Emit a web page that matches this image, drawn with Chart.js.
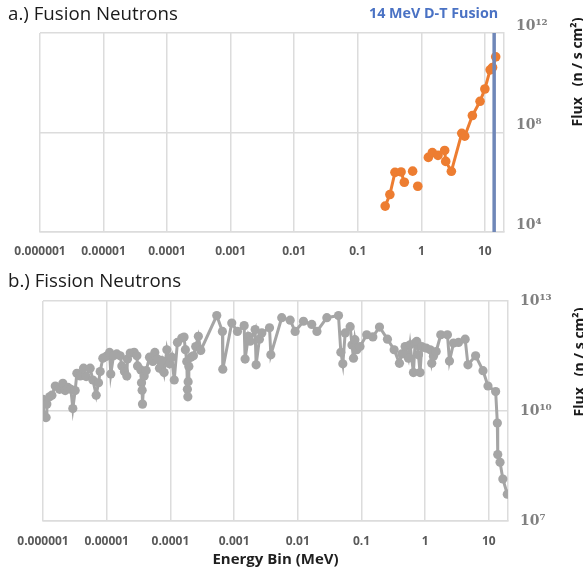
<!DOCTYPE html>
<html>
<head>
<meta charset="utf-8">
<script src="https://cdn.jsdelivr.net/npm/chart.js@4.4.0/dist/chart.umd.min.js"></script>
<style>
body { margin:0; background:#fff; width:583px; height:575px; overflow:hidden; position:relative; font-family:"Open Sans", sans-serif; }
.wrap { position:absolute; left:0; width:583px; }
#w1 { top:0; height:262px; }
#w2 { top:262px; height:313px; }
.ptitle { position:absolute; left:8px; font-size:18.7px; color:#1a1a1a; white-space:nowrap; line-height:1; }
.flux { position:absolute; font-weight:bold; font-size:14px; color:#1a1a1a; white-space:pre; transform:translate(-50%,-50%) rotate(-90deg); line-height:1; }
#dt { position:absolute; left:369px; top:6px; font-weight:bold; font-size:14.3px; color:#4a72c4; white-space:nowrap; line-height:1; }
</style>
</head>
<body>
<div class="wrap" id="w1"><canvas id="c1"></canvas></div>
<div class="wrap" id="w2"><canvas id="c2"></canvas></div>
<div class="ptitle" style="top:4px">a.) Fusion Neutrons</div>
<div class="ptitle" style="top:271px">b.) Fission Neutrons</div>
<div id="dt">14 MeV D-T Fusion</div>
<div class="flux" style="left:577px; top:72px">Flux   (n / s cm²)</div>
<div class="flux" style="left:579px; top:362px">Flux   (n / s cm²)</div>
<script>
// x ticks (MeV), shared by both panels
var xTicks = [1e-6, 1e-5, 1e-4, 1e-3, 1e-2, 0.1, 1, 10];
var xTickLabels = ['0.000001', '0.00001', '0.0001', '0.001', '0.01', '0.1', '1', '10'];

// a.) fusion spectrum (null = gap)
var fusionE = [0.27, 0.32, 0.385, 0.48, 0.54, 0.63, 0.73, 0.8, 0.88, 1.1, 1.29, 1.49, 1.83, 2.33, 2.42, 2.97, 4.33, 4.82, 6.36, 8.4, 10.0, 12.1, 13.2, 14.8];
var fusionFlux = [1.1e5, 3.2e5, 2.5e6, 2.6e6, 1.0e6, null, 2.8e6, null, 6.9e5, null, 1.0e7, 1.55e7, 1.2e7, 1.9e7, 6.9e6, 2.75e6, 9.3e7, 7.1e7, 4.8e8, 1.8e9, 5.6e9, 3.3e10, 4.1e10, 1.1e11];
var dtLineE = 14;
var yTicksTop = [1e4, 1e8, 1e12];
var yLabelsTop = ['10⁴', '10⁸', '10¹²'];

// b.) fission spectrum
var fissionE = [
  1.0e-6, 1.02e-6, 1.12e-6, 1.15e-6, 1.27e-6, 1.38e-6, 1.56e-6, 1.82e-6, 2.05e-6, 2.23e-6,
  2.46e-6, 2.74e-6, 2.94e-6, 3.2e-6, 3.4e-6, 3.84e-6, 4.33e-6, 4.77e-6, 5.5e-6, 6.07e-6,
  6.84e-6, 7.44e-6, 7.9e-6, 8.7e-6, 9.8e-6, 1.11e-5, 1.16e-5, 1.28e-5, 1.44e-5, 1.63e-5,
  1.73e-5, 1.9e-5, 2.07e-5, 2.12e-5, 2.34e-5, 2.7e-5, 2.98e-5, 3.05e-5, 3.44e-5, 3.52e-5,
  3.6e-5, 3.65e-5, 3.88e-5, 4.17e-5, 4.7e-5, 5.3e-5, 5.7e-5, 6.28e-5, 6.75e-5, 7.34e-5,
  7.98e-5, 8.8e-5, 9.7e-5, 1.05e-4, 1.15e-4, 1.29e-4, 1.51e-4, 1.64e-4, 1.72e-4, 1.81e-4,
  1.85e-4, 1.88e-4, 1.9e-4, 1.95e-4, 2.1e-4, 2.3e-4, 2.5e-4, 2.75e-4, 3.0e-4, 5.35e-4,
  6.56e-4, 6.65e-4, 9.2e-4, 1.13e-3, 1.44e-3, 1.49e-3, 1.68e-3, 1.79e-3, 2.14e-3, 2.22e-3,
  2.5e-3, 2.73e-3, 3.6e-3, 3.78e-3, 5.6e-3, 7.6e-3, 9.1e-3, 1.23e-2, 1.66e-2, 2.0e-2,
  2.86e-2, 4.36e-2, 4.75e-2, 5.1e-2, 5.56e-2, 6.65e-2, 7.1e-2, 7.5e-2, 7.9e-2, 8.45e-2,
  9.5e-2, 0.121, 0.151, 0.192, 0.256, 0.326, 0.395, 0.43, 0.485, 0.547,
  0.58, 0.655, 0.695, 0.738, 0.784, 0.833, 0.885, 1.035, 1.2, 1.27,
  1.35, 1.49, 1.76, 2.24, 2.41, 2.79, 3.34, 4.25, 4.7, 6.2,
  8.1, 9.7, 12.8, 13.6, 13.8, 15.0, 16.6, 19.5
];
var fissionFlux = [
  2.07e10, 7.7e9, 6.6e9, 1.54e10, 2.44e10, 2.7e10, 4.8e10, 3.9e10, 5.7e10, 3.6e10,
  4.4e10, 3.9e10, 1.17e10, 3.6e10, 1.07e11, 9.0e10, 1.47e11, 8.7e10, 1.47e11, 7.0e10,
  2.7e10, 5.9e10, 1.19e11, 2.76e11, 3.07e11, 3.95e11, 1.02e11, 3.2e11, 3.6e11, 3.2e11,
  1.7e11, 1.19e11, 9.0e10, 2.6e11, 3.8e11, 4.0e11, 3.2e11, 1.7e11, 1.32e11, 5.9e10,
  3.7e10, 1.54e10, 9.0e10, 1.27e11, 2.94e11, 2.24e11, 3.95e11, 2.6e11, 1.47e11, 2.38e11,
  1.12e11, 4.68e11, 1.93e11, 2.94e11, 7.0e10, 7.4e11, 9.8e11, 1.04e12, 4.7e11, 2.24e11,
  3.9e10, 2.44e10, 6.3e10, 1.63e11, 2.94e11, 3.2e11, 5.75e11, 1.09e12, 4.5e11, 4.0e12,
  1.48e12, 1.38e11, 2.5e12, 1.48e12, 2.13e12, 2.6e11, 1.09e12, 8.0e11, 1.66e12, 1.82e11,
  9.1e11, 1.35e12, 1.86e12, 3.4e11, 3.5e12, 3.0e12, 1.48e12, 2.8e12, 2.3e12, 1.48e12,
  3.5e12, 4.0e12, 4.0e11, 1.93e11, 1.35e12, 2.0e12, 6.3e11, 2.76e11, 8.8e11, 4.68e11,
  5.75e11, 1.2e12, 1.05e12, 1.95e12, 9.1e11, 4.68e11, 2.0e11, 3.6e11, 5.75e11, 2.76e11,
  6.4e11, 1.12e11, 7.1e11, 7.9e11, 3.4e11, 1.12e11, 5.75e11, 5.2e11, 4.68e11, 2.0e11,
  3.1e11, 4.2e11, 1.2e12, 1.2e12, 2.3e11, 7.1e11, 7.4e11, 9.1e11, 1.82e11, 3.2e11,
  1.26e11, 4.8e10, 3.4e10, 4.7e9, 6.5e8, 4.0e8, 1.4e8, 5.4e7
];
var yTicksBottom = [1e7, 1e10, 1e13];
var yLabelsBottom = ['10⁷', '10¹⁰', '10¹³'];

function pts(xs, ys) {
  return xs.map(function(x, i) { return { x: x, y: ys[i] }; });
}

function makeChart(id, cfg) {
  var gridColor = '#dcdcdc';
  return new Chart(document.getElementById(id), {
    type: 'line',
    data: { datasets: cfg.datasets },
    options: {
      responsive: true,
      maintainAspectRatio: false,
      animation: false,
      events: [],
      layout: { padding: cfg.padding },
      plugins: { legend: { display: false }, tooltip: { enabled: false } },
      scales: {
        x: {
          type: 'logarithmic',
          min: 1e-6,
          max: 20,
          afterBuildTicks: function(s) { s.ticks = xTicks.map(function(v) { return { value: v }; }); },
          afterFit: function(s) { s.height = cfg.xHeight; },
          grid: { color: gridColor, lineWidth: 1.5, drawTicks: false },
          border: { color: gridColor, width: 1.5 },
          ticks: {
            autoSkip: false, maxRotation: 0, padding: cfg.xPad,
            color: '#595959', font: { family: 'Open Sans', size: 12, weight: 'bold' },
            callback: function(v) { var i = xTicks.indexOf(v); return i >= 0 ? xTickLabels[i] : ''; }
          },
          title: cfg.xTitle
        },
        y: {
          type: 'logarithmic',
          position: 'right',
          min: cfg.yTicks[0],
          max: cfg.yTicks[cfg.yTicks.length - 1],
          afterBuildTicks: function(s) { s.ticks = cfg.yTicks.map(function(v) { return { value: v }; }); },
          afterFit: function(s) { s.width = 50; },
          grid: { color: gridColor, lineWidth: 1.5, drawTicks: false },
          border: { color: gridColor, width: 1.5 },
          ticks: {
            padding: 12, labelOffset: cfg.yOffset,
            color: '#808080', font: { family: 'DejaVu Serif', size: 14, weight: 'bold' },
            callback: function(v) { var i = cfg.yTicks.indexOf(v); return i >= 0 ? cfg.yLabels[i] : ''; }
          }
        }
      }
    }
  });
}

makeChart('c1', {
  padding: { left: 40, top: 33, right: 29, bottom: 0 },
  xHeight: 30, xPad: 12, yOffset: -7,
  yTicks: yTicksTop, yLabels: yLabelsTop,
  xTitle: { display: false },
  datasets: [
    {
      data: [{ x: dtLineE, y: yTicksTop[0] }, { x: dtLineE, y: yTicksTop[2] }],
      borderColor: '#6f87b8', borderWidth: 3.5, pointRadius: 0, tension: 0
    },
    {
      data: pts(fusionE, fusionFlux),
      borderColor: '#ED7D31', backgroundColor: '#ED7D31', borderWidth: 3,
      pointRadius: 4.8, pointBorderWidth: 0, pointBackgroundColor: '#ED7D31',
      spanGaps: false, tension: 0
    }
  ]
});

makeChart('c2', {
  padding: { left: 43, top: 39, right: 25, bottom: 0 },
  xHeight: 54, xPad: 13, yOffset: 0,
  yTicks: yTicksBottom, yLabels: yLabelsBottom,
  xTitle: {
    display: true, text: 'Energy Bin (MeV)', color: '#1f1f1f',
    font: { family: 'Open Sans', size: 15, weight: 'bold' },
    padding: { top: 0, bottom: 6 }
  },
  datasets: [
    {
      data: pts(fissionE, fissionFlux),
      borderColor: '#A5A5A5', backgroundColor: '#A5A5A5', borderWidth: 3,
      pointRadius: 4.6, pointBorderWidth: 0, pointBackgroundColor: '#A5A5A5',
      tension: 0
    }
  ]
});
</script>
</body>
</html>
